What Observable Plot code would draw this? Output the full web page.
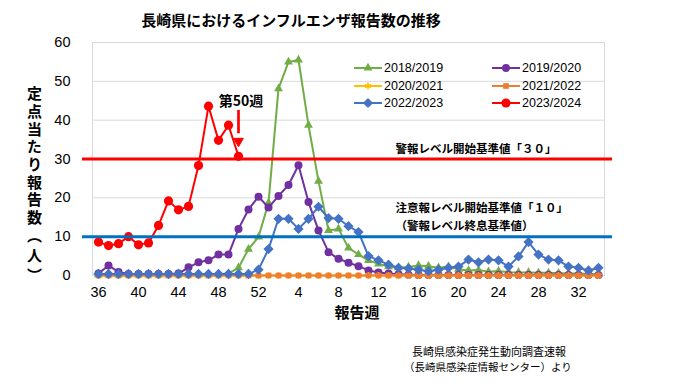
<!DOCTYPE html>
<html><head><meta charset="utf-8">
<script src="https://cdn.jsdelivr.net/npm/d3@7"></script>
<script src="https://cdn.jsdelivr.net/npm/@observablehq/plot@0.6"></script>
<style>
body{margin:0;background:#fff;}
#wrap{position:relative;width:680px;height:382px;overflow:hidden;font-family:"Noto Sans CJK JP",sans-serif;color:#000;}
#chart{position:absolute;left:0;top:0;}
.abs{position:absolute;white-space:nowrap;line-height:1;}
.leg{position:absolute;display:flex;align-items:center;height:14px;font-family:"Liberation Sans",Arial,sans-serif;font-size:12.5px;}
.leg svg{margin-right:2px;}
</style></head><body>
<div id="wrap">
<div id="chart"></div>
<div class="abs" style="left:0;width:582px;text-align:center;top:12px;font-size:15px;font-weight:700;">長崎県におけるインフルエンザ報告数の推移</div>
<div class="abs" style="left:27px;top:86px;writing-mode:vertical-rl;font-size:15px;font-weight:700;letter-spacing:2.7px;">定点当たり報告数<span style="letter-spacing:5px;">（人）</span></div>
<div class="abs" style="left:0;width:714px;text-align:center;top:304px;font-size:15px;font-weight:700;">報告週</div>
<div class="abs" style="left:412px;top:346px;font-size:11px;">長崎県感染症発生動向調査速報</div>
<div class="abs" style="left:404px;top:362px;font-size:10.5px;">（長崎県感染症情報センター）より</div>
<div id="legend"></div>
</div>
<script>
// report weeks (season runs week 36 -> week 34 of next year)
const weeks = [36,37,38,39,40,41,42,43,44,45,46,47,48,49,50,51,52,1,2,3,4,5,6,7,8,9,10,11,12,13,14,15,16,17,18,19,20,21,22,23,24,25,26,27,28,29,30,31,32,33,34];
const tickWeeks = [36,40,44,48,52,4,8,12,16,20,24,28,32];
const yTicks = [0,10,20,30,40,50,60];

const seasons = ["2018/2019","2019/2020","2020/2021","2021/2022","2022/2023","2023/2024"];

const s2018 = [0.2,0.2,0.2,0.2,0.2,0.2,0.2,0.2,0.2,0.2,0.2,0.2,0.3,0.5,2.0,6.8,9.9,
  18.7,48.1,55.0,55.5,38.7,24.3,11.6,12.0,7.1,5.4,3.9,3.0,2.3,2.0,2.2,2.6,2.4,2.0,2.3,1.6,1.3,1.4,1.0,1.1,0.9,0.8,0.8,0.7,0.7,0.6,0.5,0.5,0.4,0.4];
const s2019 = [0.5,2.6,0.9,0.4,0.4,0.4,0.4,0.4,0.5,2.1,3.4,3.9,5.4,5.4,12.0,17.0,20.3,
  17.5,20.5,23.3,28.4,18.9,11.6,6.0,4.3,3.3,2.4,1.3,0.8,0.5,0.3,0.2,0.1,0.1,0.1,0.1,0.1,0.1,0.1,0.1,0.1,0.1,0.1,0.1,0.1,0.1,0.1,0.1,0.1,0.1,0.1];
const s2020 = [0,0,0,0,0,0,0,0,0,0,0,0,0,0,0,0,0,
  0,0,0,0,0,0,0,0,0,0,0,0,0,0,0,0,0,0,0,0,0,0,0,0,0,0,0,0,0,0,0,0,0,0];
const s2021 = [0,0,0,0,0,0,0,0,0,0,0,0,0,0,0,0,0,
  0,0,0,0,0,0,0,0,0,0,0,0,0,0,0,0,0,0,0,0,0,0,0,0,0,0,0,0,0,0,0,0,0,0];
const s2022 = [0.4,0.4,0.4,0.4,0.4,0.4,0.4,0.4,0.4,0.4,0.4,0.4,0.4,0.4,0.4,0.4,1.5,
  6.8,14.6,14.6,12.0,14.6,17.7,14.8,14.6,12.7,11.2,5.0,3.9,2.8,2.0,1.8,1.5,1.1,1.5,2.0,2.3,4.1,3.4,4.1,3.9,2.3,4.9,8.6,5.4,4.1,3.9,2.3,2.0,1.3,2.0];
const s2023 = [8.6,7.7,8.2,10.0,7.9,8.4,12.9,19.2,16.9,17.8,28.3,43.6,34.8,38.7,30.7];

const thresholds = [30, 10];
const thresholdColors = ["#ff0000", "#0070c0"];
const thresholdLabels = [
  {y: 30, text: "警報レベル開始基準値「３０」", dy: -10},
  {y: 10, text: "注意報レベル開始基準値「１０」", dy: -28},
  {y: 10, text: "（警報レベル終息基準値）", dy: -10}
];
const currentWeek = {week: "50", label: "第50週", labelY: 44.7, arrowTop: 42.5, arrowBottom: 36.5, headY: 34.6};

const colors = ["#70ad47","#7030a0","#ffc000","#ed7d31","#4472c4","#ff0000"];
const symbols = ["triangle","circle","asterisk","square","diamond2","circle"];
const radii = [3.3, 4, 3.2, 3.2, 4.6, 4.6];
const values = [s2018, s2019, s2020, s2021, s2022, s2023];

const rows = [];
seasons.forEach((s, k) => values[k].forEach((v, i) => {
  if (v != null) rows.push({season: s, week: String(weeks[i]), value: v});
}));

const seriesMarks = seasons.flatMap((s, k) => {
  const d = rows.filter(r => r.season === s);
  const stroked = symbols[k] === "asterisk";
  return [
    Plot.line(d, {x: "week", y: "value", stroke: colors[k], strokeWidth: 2}),
    Plot.dot(d, {x: "week", y: "value", symbol: symbols[k], r: radii[k],
      fill: stroked ? "none" : colors[k], stroke: stroked ? colors[k] : "none", strokeWidth: 1.5})
  ];
});

const jp = "Noto Sans CJK JP";
const chart = Plot.plot({
  width: 680, height: 382,
  marginTop: 42, marginLeft: 92, marginRight: 76, marginBottom: 107,
  x: {type: "point", domain: weeks.map(String), padding: 0.5, label: null},
  y: {domain: [0, 60], label: null},
  style: {fontFamily: "'Liberation Sans Narrow','Liberation Sans',Arial,sans-serif", fontSize: "14.5px", color: "#000", background: "transparent", overflow: "visible"},
  marks: [
    Plot.gridY(yTicks, {stroke: "#d9d9d9", strokeOpacity: 1}),
    Plot.frame({stroke: "#d9d9d9"}),
    Plot.axisY({ticks: yTicks, tickSize: 0, tickPadding: 22, label: null}),
    Plot.axisX({ticks: tickWeeks.map(String), tickSize: 0, tickPadding: 11, label: null}),
    ...seriesMarks,
    ...thresholds.map((t, k) => Plot.ruleY([t], {stroke: thresholdColors[k], strokeWidth: 3, insetLeft: -10, insetRight: -8})),
    ...thresholdLabels.map(l => Plot.text([l], {y: "y", text: "text", frameAnchor: "left", dx: 303, dy: l.dy, textAnchor: "start",
      fontFamily: jp, fontSize: 11.5, fontWeight: "bold", fill: "#000"})),
    Plot.text([currentWeek], {x: "week", y: "labelY", text: "label", dx: 2.5, fontFamily: jp, fontSize: 14, fontWeight: "bold", fill: "#000"}),
    Plot.ruleX([currentWeek], {x: "week", y1: "arrowTop", y2: "arrowBottom", stroke: "#ff0000", strokeWidth: 2.7}),
    Plot.dot([currentWeek], {x: "week", y: "headY", symbol: "triangle", r: 3.6, rotate: 180, fill: "#ff0000", stroke: "#ff0000", strokeWidth: 1})
  ]
});
document.getElementById("chart").append(chart);

// legend
const legPos = [[354, 68], [492, 68], [354, 86], [492, 86], [354, 103], [492, 103]];
const symMap = {triangle: d3.symbolTriangle, circle: d3.symbolCircle, asterisk: d3.symbolAsterisk, square: d3.symbolSquare, diamond2: d3.symbolDiamond2};
const leg = document.getElementById("legend");
seasons.forEach((s, k) => {
  const div = document.createElement("div");
  div.className = "leg";
  div.style.left = legPos[k][0] + "px";
  div.style.top = (legPos[k][1] - 7) + "px";
  const stroked = symbols[k] === "asterisk";
  const path = d3.symbol(symMap[symbols[k]], Math.PI * radii[k] * radii[k])();
  div.innerHTML = `<svg width="28" height="14"><line x1="0" x2="28" y1="7" y2="7" stroke="${colors[k]}" stroke-width="2"/>` +
    `<path transform="translate(14,7)" d="${path}" fill="${stroked ? "none" : colors[k]}" stroke="${stroked ? colors[k] : "none"}" stroke-width="1.5"/></svg><span>${s}</span>`;
  leg.append(div);
});
</script>
</body></html>
